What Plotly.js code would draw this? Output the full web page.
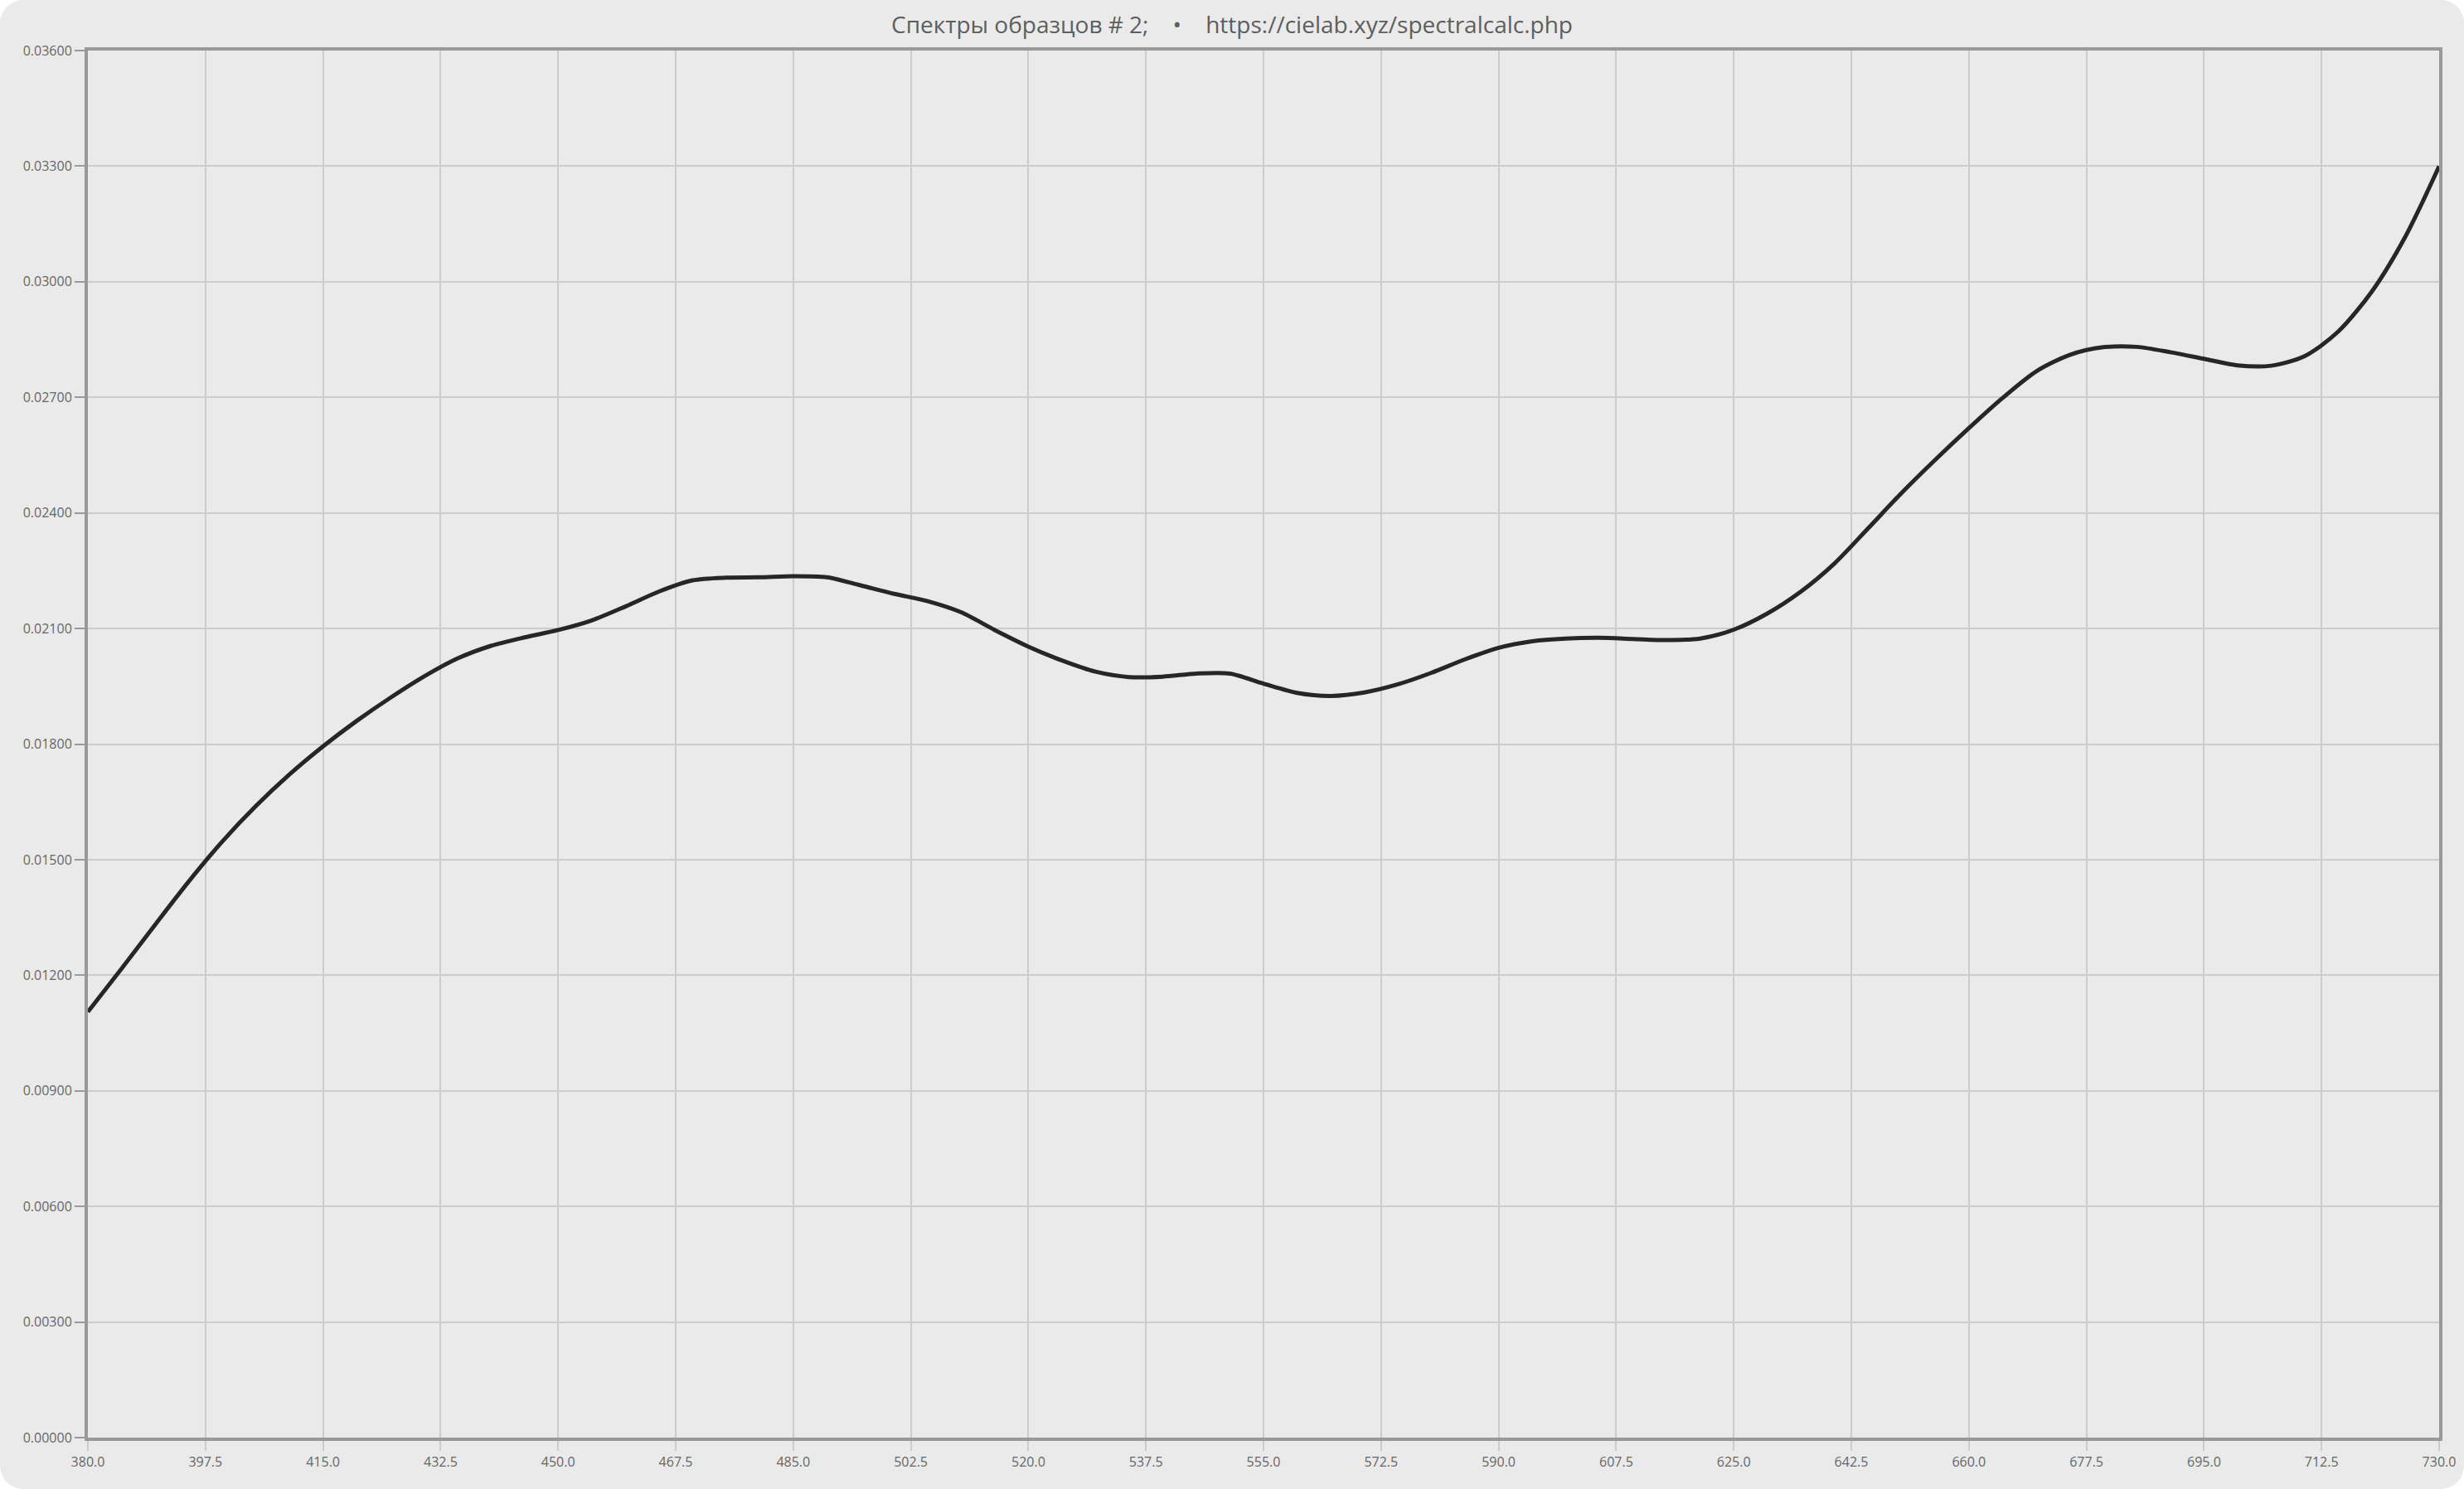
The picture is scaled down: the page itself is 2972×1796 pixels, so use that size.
<!DOCTYPE html>
<html>
<head>
<meta charset="utf-8">
<script src="https://cdn.plot.ly/plotly-3.0.1.min.js"></script>
<style>
  html, body { margin: 0; padding: 0; background: #ffffff; }
  #chart { width: 2972px; height: 1796px; background: #eaeaea; border-radius: 28px; overflow: hidden; }
</style>
</head>
<body>
<div id="chart"></div>
<script>
// Wavelengths (nm)
const wavelengths = [380,385,390,395,400,405,410,415,420,425,430,435,440,445,450,455,460,465,470,475,
  480,485,490,495,500,505,510,515,520,525,530,535,540,545,550,555,560,565,570,575,
  580,585,590,595,600,605,610,615,620,625,630,635,640,645,650,655,660,665,670,675,
  680,685,690,695,700,705,710,715,720,725,730];

// Spectrum of sample #2
const spectrum = [0.01105,0.01217,0.01331,0.01443,0.01547,0.01639,0.01721,0.01794,0.01860,0.01920,
  0.01975,0.02022,0.02055,0.02077,0.02096,0.02121,0.02157,0.02196,0.02225,0.02232,
  0.02233,0.02236,0.02233,0.02212,0.02190,0.02171,0.02142,0.02096,0.02053,0.02017,
  0.01988,0.01974,0.01975,0.01983,0.01983,0.01957,0.01933,0.01925,0.01934,0.01955,
  0.01985,0.02020,0.02050,0.02067,0.02074,0.02076,0.02073,0.02070,0.02074,0.02097,
  0.02139,0.02196,0.02269,0.02360,0.02452,0.02538,0.02620,0.02698,0.02767,0.02810,
  0.02830,0.02831,0.02817,0.02800,0.02783,0.02782,0.02807,0.02871,0.02975,0.03118,
  0.03300];

const titleText = 'Спектры образцов # 2; &nbsp;&nbsp; • &nbsp;&nbsp; https://cielab.xyz/spectralcalc.php';

const trace = {
  x: wavelengths,
  y: spectrum,
  type: 'scatter',
  mode: 'lines',
  line: { color: '#262626', width: 5, shape: 'spline', smoothing: 0.8 },
  hoverinfo: 'x+y'
};

const fontFamily = '"Open Sans", "Noto Sans", sans-serif';

const layout = {
  width: 2972,
  height: 1796,
  paper_bgcolor: 'rgba(0,0,0,0)',
  plot_bgcolor: '#eaeaea',
  margin: { l: 106, r: 30, t: 61, b: 62, pad: 0 },
  showlegend: false,
  title: {
    text: titleText,
    x: 0.5, xanchor: 'center',
    y: 1 - 30/1796, yanchor: 'middle',
    yref: 'container',
    font: { family: fontFamily, size: 28, color: '#5e5e5e' }
  },
  xaxis: {
    range: [380, 730],
    tick0: 380, dtick: 17.5,
    tickformat: '.1f',
    showgrid: true, gridcolor: '#cccccc', gridwidth: 2,
    zeroline: false,
    showline: true, linecolor: '#999999', linewidth: 4, mirror: true,
    ticks: 'outside', ticklen: 12, tickwidth: 2, tickcolor: '#cccccc',
    tickfont: { family: fontFamily, size: 16, color: '#666666' }
  },
  yaxis: {
    range: [0, 0.036],
    tick0: 0, dtick: 0.003,
    tickformat: '.5f',
    showgrid: true, gridcolor: '#cccccc', gridwidth: 2,
    zeroline: false,
    showline: true, linecolor: '#999999', linewidth: 4, mirror: true,
    ticks: 'outside', ticklen: 12, tickwidth: 2, tickcolor: '#999999',
    tickfont: { family: fontFamily, size: 16, color: '#666666' }
  }
};

Plotly.newPlot('chart', [trace], layout, { displayModeBar: false, staticPlot: true });
</script>
</body>
</html>
